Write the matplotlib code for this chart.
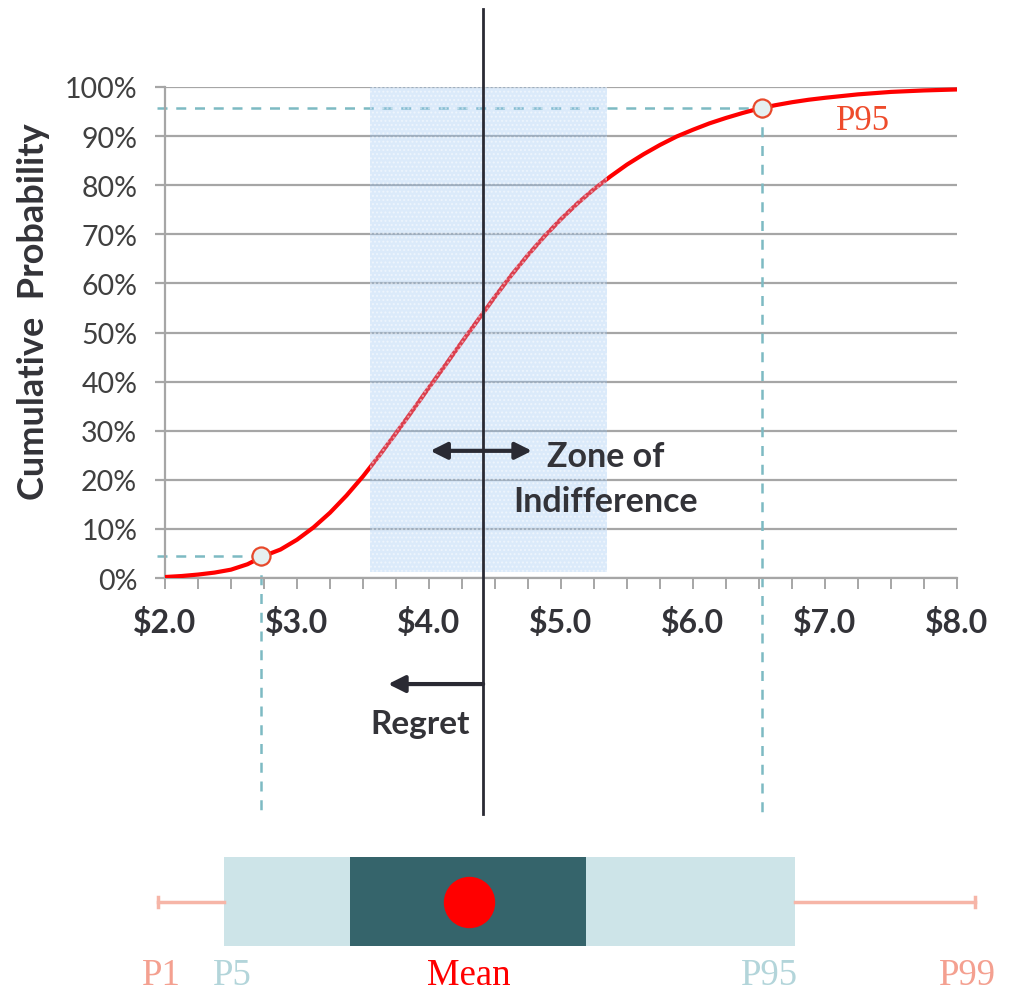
import matplotlib
matplotlib.use("Agg")
import matplotlib.pyplot as plt
from matplotlib.patches import Rectangle
from matplotlib.ticker import MultipleLocator, FuncFormatter

# ---------------- data ----------------
price = [2.0, 2.125, 2.25, 2.375, 2.5, 2.625, 2.75, 2.875, 3.0, 3.125, 3.25, 3.375,
         3.5, 3.625, 3.75, 3.875, 4.0, 4.125, 4.25, 4.375, 4.5, 4.625, 4.75, 4.875,
         5.0, 5.125, 5.25, 5.375, 5.5, 5.625, 5.75, 5.875, 6.0, 6.125, 6.25, 6.375,
         6.5, 6.625, 6.75, 6.875, 7.0, 7.25, 7.5, 7.75, 8.0]
cum_prob = [0.002, 0.004, 0.007, 0.011, 0.017, 0.028, 0.045, 0.058, 0.078, 0.103,
            0.133, 0.168, 0.207, 0.250, 0.295, 0.341, 0.388, 0.434, 0.481, 0.527,
            0.573, 0.617, 0.658, 0.696, 0.731, 0.763, 0.792, 0.818, 0.842, 0.863,
            0.882, 0.899, 0.913, 0.926, 0.937, 0.947, 0.956, 0.963, 0.969, 0.974,
            0.978, 0.985, 0.990, 0.993, 0.995]

mean_value = 4.41
p5_point = (2.73, 0.045)
p95_point = (6.52, 0.957)
zone_range = (3.55, 5.35)
zone_prob = (0.012, 1.0)

x_ticks = [2.0, 3.0, 4.0, 5.0, 6.0, 7.0, 8.0]
y_ticks = [0.0, 0.1, 0.2, 0.3, 0.4, 0.5, 0.6, 0.7, 0.8, 0.9, 1.0]

# box summary (schematic, on same $ scale)
box_labels = ["P1", "P5", "Mean", "P95", "P99"]
box_p1, box_p5, box_q_lo, box_mean, box_q_hi, box_p95, box_p99 = 1.95, 2.45, 3.40, 4.30, 5.19, 6.77, 8.14

# ---------------- style ----------------
W, H = 1011, 995
fig = plt.figure(figsize=(W / 100, H / 100), dpi=100)

def fx(px):
    return px / W

def fy(py):
    return 1 - py / H

ax_l, ax_r, ax_t, ax_b = 165, 957, 88, 579
ax = fig.add_axes([fx(ax_l), fy(ax_b), fx(ax_r) - fx(ax_l), fy(ax_t) - fy(ax_b)])
ax.set_xlim(2, 8)
ax.set_ylim(0, 1)

grid_c = "#a6a6a6"
text_c = "#333338"
teal = "#7dbac3"
red = "#ff0000"

for s in ["top", "right"]:
    ax.spines[s].set_visible(False)
for s in ["left", "bottom"]:
    ax.spines[s].set_color(grid_c)
    ax.spines[s].set_linewidth(1.6)

ax.set_yticks(y_ticks)
ax.yaxis.set_major_formatter(FuncFormatter(lambda v, p: f"{v*100:.0f}%"))
ax.set_xticks(x_ticks)
ax.xaxis.set_major_formatter(FuncFormatter(lambda v, p: f"${v:.1f}"))
ax.xaxis.set_minor_locator(MultipleLocator(0.25))
ax.tick_params(axis="y", direction="out", length=7, width=1.6, color=grid_c,
               labelsize=20.5, labelcolor="#404040", pad=13)
ax.tick_params(axis="x", which="both", direction="out", length=8, width=1.4, color=grid_c,
               labelsize=23, labelcolor=text_c, pad=13)
for lab in ax.get_yticklabels():
    lab.set_family("Lato")
for lab in ax.get_xticklabels():
    lab.set_family("Lato")
    lab.set_fontweight("bold")

ax.grid(axis="y", color=grid_c, linewidth=1.6)
ax.set_axisbelow(True)

ax.set_ylabel("Cumulative  Probability", fontsize=26, fontweight="bold",
              family="Lato", color=text_c)
ax.yaxis.set_label_coords(-0.145, 0.544)

# curve
ax.plot(price, cum_prob, color=red, linewidth=3, zorder=3, solid_capstyle="round")

# dashed percentile guides
dash = (0, (4, 3.5))
ax.plot([1.94, p5_point[0]], [p5_point[1], p5_point[1]], ls=dash, color=teal, lw=1.8, clip_on=False, zorder=2)
ax.plot([p5_point[0], p5_point[0]], [p5_point[1], -0.48], ls=dash, color=teal, lw=1.8, clip_on=False, zorder=2)
ax.plot([1.94, p95_point[0]], [p95_point[1], p95_point[1]], ls=dash, color=teal, lw=1.8, clip_on=False, zorder=2)
ax.plot([p95_point[0], p95_point[0]], [p95_point[1], -0.48], ls=dash, color=teal, lw=1.8, clip_on=False, zorder=2)

# zone of indifference shading
zone = Rectangle((zone_range[0], zone_prob[0]), zone_range[1] - zone_range[0], zone_prob[1] - zone_prob[0],
                 facecolor=(147 / 255, 192 / 255, 240 / 255, 0.33), edgecolor=(1, 1, 1, 0.45),
                 hatch="....", linewidth=0, zorder=4)
ax.add_patch(zone)

# markers
for pt in (p5_point, p95_point):
    ax.plot(pt[0], pt[1], marker="o", markersize=13, markerfacecolor="#e6f0f0",
            markeredgecolor="#e8492b", markeredgewidth=1.6, zorder=6, clip_on=False)

# mean line
ax.plot([mean_value, mean_value], [-0.48, 1.159], color="#2a2a33", lw=2, clip_on=False, zorder=5)

# arrows
ax.annotate("", xy=(4.01, 0.259), xytext=(4.78, 0.259),
            arrowprops=dict(arrowstyle="<|-|>,head_length=1.0,head_width=0.5", color="#2a2a33", lw=3,
                            shrinkA=0, shrinkB=0), zorder=7)
ax.annotate("", xy=(3.69, -0.216), xytext=(mean_value, -0.216), annotation_clip=False,
            arrowprops=dict(arrowstyle="-|>,head_length=1.0,head_width=0.5", color="#2a2a33", lw=3,
                            shrinkA=0, shrinkB=0), zorder=7)

ax.text(5.34, 0.203, "Zone of\nIndifference", ha="center", va="center", fontsize=24.5,
        fontweight="bold", family="Lato", color=text_c, linespacing=1.5, zorder=8)
ax.text(3.93, -0.297, "Regret", ha="center", va="center", fontsize=24,
        fontweight="bold", family="Lato", color=text_c, clip_on=False)
ax.text(7.29, 0.932, "P95", ha="center", va="center", fontsize=25,
        family="Liberation Serif", color="#ee4b2b", zorder=8)

# ---------------- box summary ----------------
bx = fig.add_axes([fx(ax_l), 0, fx(ax_r) - fx(ax_l), fy(826)])
bx.set_xlim(2, 8)
bx.set_ylim(0, 1)
bx.axis("off")

def by(py):
    return (995 - py) / (995 - 826)

whisk_c = "#f6b5a7"
bx.plot([box_p1, box_p5], [by(903), by(903)], color=whisk_c, lw=2.5, clip_on=False)
bx.plot([box_p95, box_p99], [by(903), by(903)], color=whisk_c, lw=2.5, clip_on=False)
for v in (box_p1, box_p99):
    bx.plot([v, v], [by(898), by(908)], color=whisk_c, lw=2.5, clip_on=False)

bx.add_patch(Rectangle((box_p5, by(947)), box_p95 - box_p5, by(858) - by(947),
                       facecolor="#cde4e8", edgecolor="none", clip_on=False))
bx.add_patch(Rectangle((box_q_lo, by(947)), box_q_hi - box_q_lo, by(858) - by(947),
                       facecolor="#35646b", edgecolor="none", clip_on=False))
bx.plot(box_mean, by(903), marker="o", markersize=37, color=red, markeredgewidth=0)

label_pos = [box_p1, box_p5, box_mean, box_p95, box_p99]
label_off = [2, 6, 0, -18, -6]
label_col = ["#f4a090", "#b3d5da", "#ff0000", "#b3d5da", "#f4a090"]
for lab, v, off, c in zip(box_labels, label_pos, label_off, label_col):
    bx.annotate(lab, xy=(v, by(976)), xytext=(off, 0), textcoords="offset points",
                ha="center", va="center", fontsize=26.5, family="Liberation Serif", color=c,
                annotation_clip=False)

fig.savefig("out.png", dpi=100)
